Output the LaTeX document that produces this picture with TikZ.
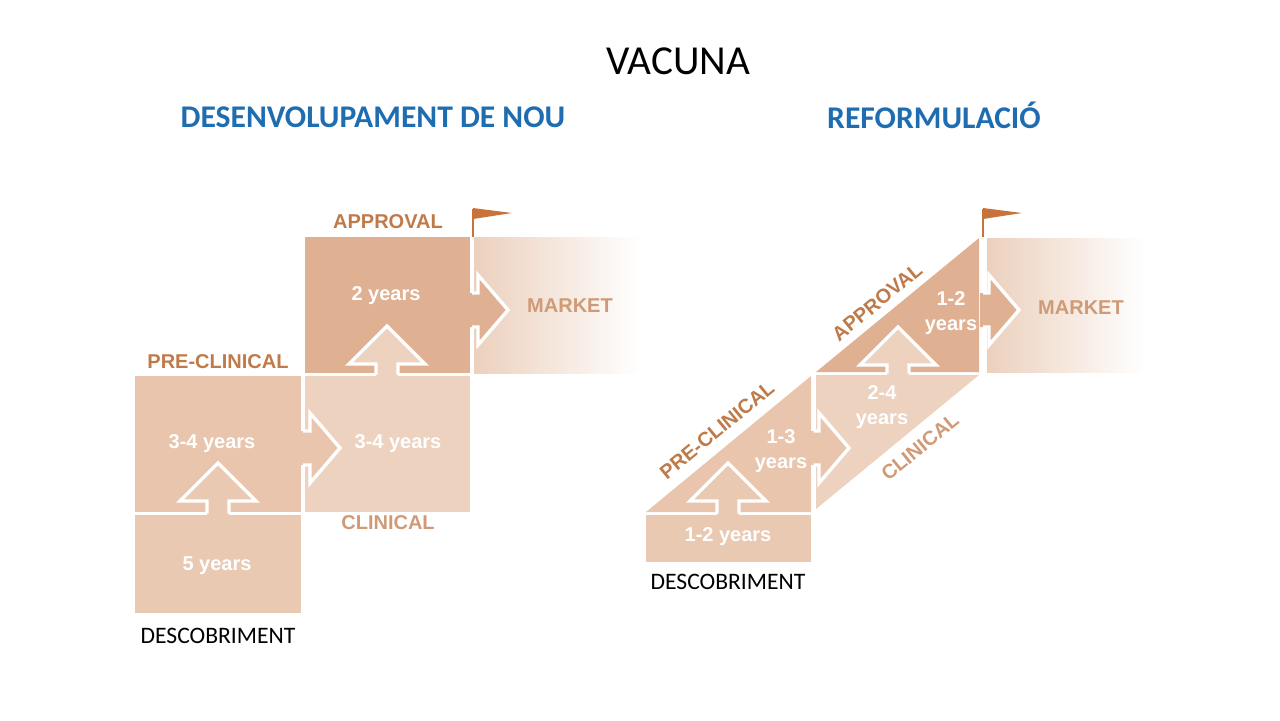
\documentclass[tikz,border=0pt]{standalone}
\usepackage{fontspec}
\setmainfont{Carlito}
\newfontfamily\labfont{Liberation Sans}
\definecolor{desc}{HTML}{E9C9B2}
\definecolor{precl}{HTML}{E8C5AC}
\definecolor{clin}{HTML}{EDD2BF}
\definecolor{appr}{HTML}{DFB092}
\definecolor{mkt}{HTML}{ECD0BD}
\definecolor{labdark}{HTML}{BF7A4A}
\definecolor{lablight}{HTML}{CF9A75}
\definecolor{flagc}{HTML}{C8733A}
\definecolor{headc}{HTML}{1F6DB1}

\begin{document}
\begin{tikzpicture}[x=0.5pt,y=-0.5pt,
  yrs/.style={font=\labfont\bfseries\fontsize{10}{12.5}\selectfont,text=white,align=center,inner sep=0pt},
  phase/.style={font=\labfont\bfseries\fontsize{10}{12}\selectfont,text=labdark,inner sep=0pt},
  disc/.style={font=\fontsize{11.8}{14}\selectfont,inner sep=0pt},
  heading/.style={font=\bfseries\fontsize{15.8}{18}\selectfont,text=headc,inner sep=0pt},
  outl/.style={draw=white,line width=1.7pt}]
 \useasboundingbox (0,0) rectangle (1280,720);
 % left: new development
 \fill[desc] (135,515) rectangle (301,613);
 \fill[precl] (135,376) rectangle (301,512);
 \fill[clin] (305,376) rectangle (470,512);
 \fill[appr] (305,237) rectangle (470,373);
 \shade[left color=mkt,right color=white] (474,237) rectangle (640,373);
 % right: reformulation
 \fill[desc] (646,515) rectangle (811,562);
 \fill[precl] (646,512) -- (811,512) -- (811,376) -- cycle;
 \fill[clin] (816,375) -- (979,375) -- (816,509) -- cycle;
 \fill[appr] (816,372) -- (979,372) -- (979,238) -- cycle;
 \shade[left color=mkt,right color=white] (987,238) rectangle (1145,372);
 \foreach \tx/\ty/\yg/\c in {218/463/513.5/desc,387/326/374.5/clin,728/463/513.5/desc,898/327/373.5/clin}{
  \fill[\c] (\tx-11,\yg+3) -- (\tx-11,\ty+38) -- (\tx-38,\ty+38) -- (\tx,\ty)
   -- (\tx+38,\ty+38) -- (\tx+11,\ty+38) -- (\tx+11,\yg+3) -- cycle;
  \draw[outl] (\tx-11,\yg) -- (\tx-11,\ty+38) -- (\tx-38,\ty+38) -- (\tx,\ty)
   -- (\tx+38,\ty+38) -- (\tx+11,\ty+38) -- (\tx+11,\yg);
 }
 \foreach \tx/\ty/\xg/\c in {340/448/303/precl,508/310/472/appr,849/448/813.5/precl,1019/310/983/appr}{
  \fill[\c] (\xg-3,\ty-17) -- (\tx-30,\ty-17) -- (\tx-30,\ty-35) -- (\tx,\ty)
   -- (\tx-30,\ty+35) -- (\tx-30,\ty+17) -- (\xg-3,\ty+17) -- cycle;
  \draw[outl] (\xg,\ty-17) -- (\tx-30,\ty-17) -- (\tx-30,\ty-35) -- (\tx,\ty)
   -- (\tx-30,\ty+35) -- (\tx-30,\ty+17) -- (\xg,\ty+17);
 }
 \foreach \px in {473,983}{
  \draw[flagc,line width=0.8pt] (\px,237) -- (\px,209);
  \fill[flagc] (\px,208) -- (\px+39,213) -- (\px,219) -- cycle;
 }
 \node[font=\fontsize{20.6}{24}\selectfont,inner sep=0pt] (vac) at (678,61) {VACUNA};
 \node[heading] (hnou) at (373,117) {DESENVOLUPAMENT DE NOU};
 \node[heading] (href) at (934,115) {REFORMULACIÓ};
 \node[phase] (apprL) at (388,222) {APPROVAL};
 \node[phase] (preL) at (218,362) {PRE-CLINICAL};
 \node[phase,text=lablight] (clinL) at (388,523) {CLINICAL};
 \node[phase,text=lablight] (mktL) at (570,306) {MARKET};
 \node[yrs] (yApprL) at (386,296) {2 years};
 \node[yrs] (yPreL) at (212,444) {3-4 years};
 \node[yrs] (yClinL) at (398,444) {3-4 years};
 \node[yrs] (yDescL) at (217,566) {5 years};
 \node[disc] (discL) at (218,636) {DESCOBRIMENT};
 \node[phase,rotate=39.4] (preR) at (717,430) {PRE-CLINICAL};
 \node[phase,rotate=39.4] (apprR) at (877,302) {APPROVAL};
 \node[phase,text=lablight,rotate=39.4] (clinR) at (920,447) {CLINICAL};
 \node[phase,text=lablight] (mktR) at (1081,308) {MARKET};
 \node[yrs] (yApprR) at (951,313) {1-2\\years};
 \node[yrs] (yClinR) at (882,407) {2-4\\years};
 \node[yrs] (yPreR) at (781,451) {1-3\\years};
 \node[yrs] (yDescR) at (728,537) {1-2 years};
 \node[disc] (discR) at (728,582) {DESCOBRIMENT};
\end{tikzpicture}
\end{document}
